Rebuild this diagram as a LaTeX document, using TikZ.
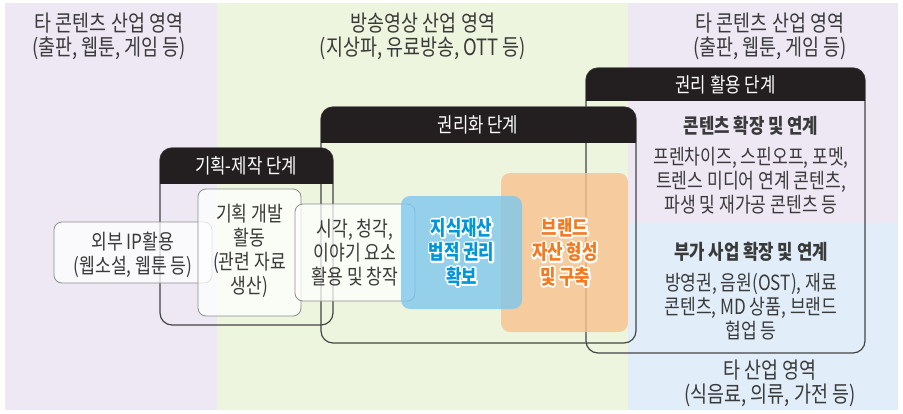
\documentclass[tikz,border=0pt]{standalone}
\usepackage{fontspec}
\setmainfont{Noto Sans CJK KR}[FakeStretch=0.82]
\definecolor{bgpurple}{HTML}{EEE8F5}
\definecolor{bggreen}{HTML}{EEF5DF}
\definecolor{bgblue}{HTML}{E1EEF9}
\definecolor{hdrc}{HTML}{231F20}
\definecolor{framec}{HTML}{444444}
\definecolor{boxc}{HTML}{8E8E8E}
\definecolor{txtc}{HTML}{3A3A3A}
\definecolor{bluebox}{HTML}{7EC7ED}
\definecolor{orangebox}{HTML}{F8C28E}
\definecolor{bluetxt}{HTML}{0096DA}
\definecolor{orangetxt}{HTML}{F37A1F}
% white stroked copy under the coloured text (outline effect)
\newcommand\strokeon{\special{pdf:code 2 Tr 3.6 w 1 J 1 j}}
\newcommand\strokeoff{\special{pdf:code 0 Tr}}
\begin{document}
\begin{tikzpicture}[x=1pt,y=-1pt,
  txt/.style={text=txtc, align=center, inner sep=0pt, font=\fontsize{20.9}{24}\selectfont},
  ttl/.style={text=txtc, align=center, inner sep=0pt, font=\fontsize{22.5}{24}\selectfont},
  btxt/.style={text=txtc, align=center, inner sep=0pt, font=\fontsize{20.4}{24}\selectfont\bfseries},
  hl/.style={align=center, inner sep=0pt, font=\fontsize{20.4}{24.5}\selectfont\bfseries},
  hdtxt/.style={text=white, inner sep=0pt, font=\fontsize{20.4}{22}\selectfont},
  frame/.style={draw=framec, line width=1.2pt, rounded corners=12pt},
  ibox/.style={draw=boxc, line width=0.8pt, fill=white, fill opacity=0.75, rounded corners=8pt},
  cbox/.style={rounded corners=9pt, fill opacity=0.8}]
\useasboundingbox (0,0) rectangle (903,413);
% background regions
\fill[bgpurple] (5,3) rectangle (217,410);
\fill[bggreen] (217,3) rectangle (628,410);
\fill[bgpurple] (628,3) rectangle (898,223);
\fill[bgblue] (628,223) rectangle (898,410);
% frame: rights utilization
\draw[frame] (586,68) rectangle (865,353);
\begin{scope}\clip (580,60) rectangle (870,100);
\fill[hdrc, rounded corners=12pt] (586,68) rectangle (865,130);\end{scope}
% frame: rights
\draw[frame] (321,107) rectangle (636,343);
\begin{scope}\clip (315,100) rectangle (640,142);
\fill[hdrc, rounded corners=12pt] (321,107) rectangle (636,170);\end{scope}
% frame: planning-production
\draw[frame] (160,148) rectangle (333,325);
\begin{scope}\clip (150,140) rectangle (340,183);
\fill[hdrc, rounded corners=12pt] (160,148) rectangle (333,210);\end{scope}
% inner boxes
\draw[ibox] (54,222) rectangle (212,283);
\draw[ibox] (198,189) rectangle (301,316);
\draw[ibox] (295,204) rectangle (415,301);
\fill[cbox, orangebox] (501,173) rectangle (628,332);
\fill[cbox, bluebox] (401,196) rectangle (522,309);
% titles
\node[ttl] (tl) at (109,36) {타 콘텐츠 산업 영역\\(출판, 웹툰, 게임 등)};
\node[ttl] (tm) at (423,36) {방송영상 산업 영역\\(지상파, 유료방송, OTT 등)};
\node[ttl] (tr) at (770,36) {타 콘텐츠 산업 영역\\(출판, 웹툰, 게임 등)};
\node[ttl] (tb) at (770,383) {타 산업 영역\\(식음료, 의류, 가전 등)};
% header texts
\node[hdtxt] (h1) at (246,165.5) {기획-제작 단계};
\node[hdtxt] (h2) at (478,124.5) {권리화 단계};
\node[hdtxt] (h3) at (725.5,84.5) {권리 활용 단계};
% inner texts
\node[txt] (ip) at (133,255) {외부 IP활용\\(웹소설, 웹툰 등)};
\node[txt] (plan) at (249.5,251) {기획 개발\\활동\\(관련 자료\\생산)};
\node[txt] (elem) at (355,253) {시각, 청각,\\이야기 요소\\활용 및 창작};
\node[hl, text=white] at (461.5,252) {\strokeon 지식재산\\\strokeon 법적 권리\\\strokeon 확보\strokeoff};
\node[hl, text=bluetxt] (ip2) at (461.5,252) {지식재산\\법적 권리\\확보};
\node[hl, text=white] at (565,252) {\strokeon 브랜드\\\strokeon 자산 형성\\\strokeon 및 구축\strokeoff};
\node[hl, text=orangetxt] (brand) at (565,252) {브랜드\\자산 형성\\및 구축};
% right panel
\node[btxt] (ext1) at (751,126) {콘텐츠 확장 및 연계};
\node[txt] (ext1t) at (751,180.5) {프렌차이즈, 스핀오프, 포멧,\\트렌스 미디어 연계 콘텐츠,\\파생 및 재가공 콘텐츠 등};
\node[btxt] (ext2) at (751,252) {부가 사업 확장 및 연계};
\node[txt] (ext2t) at (751,306.5) {방영권, 음원(OST), 재료\\콘텐츠, MD 상품, 브랜드\\협업 등};
\end{tikzpicture}
\end{document}
